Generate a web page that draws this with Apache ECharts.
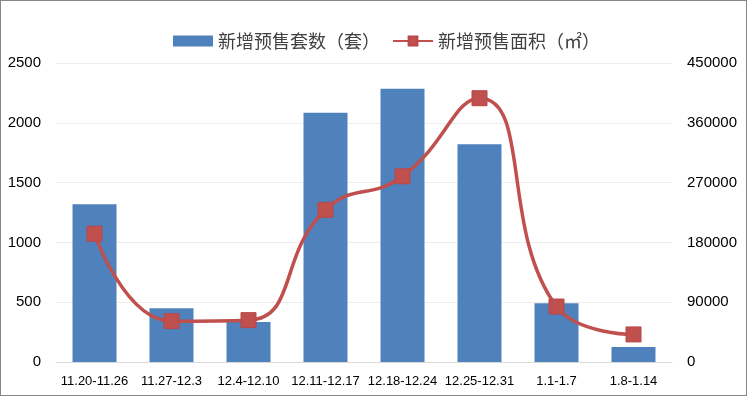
<!DOCTYPE html>
<html><head><meta charset="utf-8">
<script src="https://cdn.jsdelivr.net/npm/echarts@6/dist/echarts.min.js"></script>
<style>
html,body{margin:0;padding:0;background:#fff;}
#c{width:745px;height:394px;border:1px solid #868686;}
</style></head>
<body><div id="c"></div>
<script>
const categories = ['11.20-11.26','11.27-12.3','12.4-12.10','12.11-12.17','12.18-12.24','12.25-12.31','1.1-1.7','1.8-1.14'];
const unitsSold = [1320, 450, 335, 2085, 2285, 1820, 492, 125];
const areaSold = [193000, 61500, 63000, 229000, 279500, 397000, 83500, 41500];
const seriesNames = ['新增预售套数（套）','新增预售面积（㎡）'];

const chart = echarts.init(document.getElementById('c'));
const narrow = '"Liberation Sans Narrow", "Liberation Sans", sans-serif';
chart.setOption({
  animation:false,
  legend:{
    top:26, left:167, itemGap:12, itemWidth:40, itemHeight:11,
    textStyle:{fontSize:18, color:'#404040', fontFamily:'"Noto Sans CJK SC", sans-serif'},
    data:[{name:seriesNames[0], icon:'rect'},{name:seriesNames[1]}]
  },
  grid:{left:55, right:74, top:62, bottom:33},
  xAxis:{
    type:'category', data:categories,
    axisLine:{lineStyle:{color:'#d9d9d9'}},
    axisTick:{show:false},
    axisLabel:{color:'#000', fontSize:13, margin:13, interval:0, fontFamily:narrow}
  },
  yAxis:[
    {type:'value', min:0, max:2500, interval:500,
     axisLabel:{color:'#000', fontSize:15, margin:15, fontFamily:'"Liberation Sans", sans-serif', formatter:v=>String(v)},
     splitLine:{lineStyle:{color:'#ececec'}}, axisLine:{show:false}},
    {type:'value', min:0, max:450000, interval:90000,
     axisLabel:{color:'#000', fontSize:15, margin:15, fontFamily:'"Liberation Sans", sans-serif', formatter:v=>String(v)},
     splitLine:{show:false}, axisLine:{show:false}}
  ],
  series:[
    {name:seriesNames[0], type:'bar', data:unitsSold, barWidth:44,
     itemStyle:{color:'#4F81BD'}},
    {name:seriesNames[1], type:'line', yAxisIndex:1, data:areaSold, smooth:0.5,
     symbol:'rect', symbolSize:15,
     lineStyle:{color:'#C0504D', width:3.5},
     itemStyle:{color:'#C0504D', borderColor:'#B8474A', borderWidth:1}}
  ]
});
</script></body></html>
